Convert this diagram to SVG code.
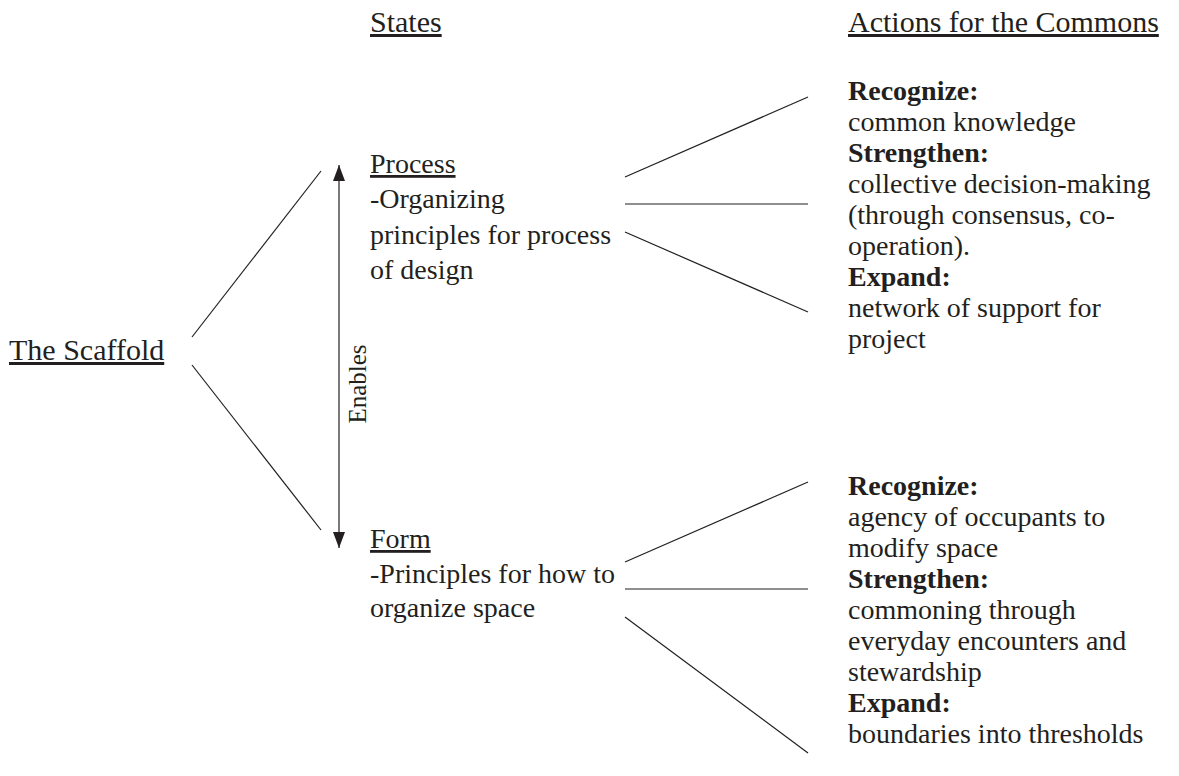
<svg xmlns="http://www.w3.org/2000/svg" width="1179" height="776" viewBox="0 0 1179 776">
<style>
text{font-family:"Liberation Serif","DejaVu Serif",serif;font-size:28px;fill:#231f20}
.u{text-decoration:underline}
.h{font-size:30px}
.b{font-weight:bold}
.c line{stroke:#231f20;stroke-width:1.2}
</style>
<defs>
<marker id="ah" viewBox="0 0 16 12" refX="16" refY="6" markerWidth="16" markerHeight="12" markerUnits="userSpaceOnUse" orient="auto-start-reverse">
<path d="M0,0 L16,6 L0,12 Z" fill="#231f20"/>
</marker>
</defs>
<rect width="1179" height="776" fill="#fff"/>
<g id="heading-states"><text x="370" y="32" class="u h">States</text></g>
<g id="heading-actions"><text x="848" y="32" class="u h">Actions for the Commons</text></g>
<g id="scaffold"><text x="9" y="360" class="u h">The Scaffold</text></g>
<g id="process">
<text x="370" y="173" class="u">Process</text>
<text x="370" y="208">-Organizing</text>
<text x="370" y="244">principles for process</text>
<text x="370" y="279">of design</text>
</g>
<g id="form">
<text x="370" y="548" class="u">Form</text>
<text x="370" y="583">-Principles for how to</text>
<text x="370" y="617">organize space</text>
</g>
<g id="actions-process">
<text x="848" y="100" class="b">Recognize:</text>
<text x="848" y="131">common knowledge</text>
<text x="848" y="162" class="b">Strengthen:</text>
<text x="848" y="193">collective decision-making</text>
<text x="848" y="224">(through consensus, co-</text>
<text x="848" y="255">operation).</text>
<text x="848" y="286" class="b">Expand:</text>
<text x="848" y="317">network of support for</text>
<text x="848" y="348">project</text>
</g>
<g id="actions-form">
<text x="848" y="495" class="b">Recognize:</text>
<text x="848" y="526">agency of occupants to</text>
<text x="848" y="557">modify space</text>
<text x="848" y="588" class="b">Strengthen:</text>
<text x="848" y="619">commoning through</text>
<text x="848" y="650">everyday encounters and</text>
<text x="848" y="681">stewardship</text>
<text x="848" y="712" class="b">Expand:</text>
<text x="848" y="743">boundaries into thresholds</text>
</g>
<g id="connectors" class="c">
<line x1="192" y1="337" x2="321" y2="171"/>
<line x1="192" y1="365" x2="321" y2="530"/>
<line x1="339" y1="165" x2="339" y2="548" marker-start="url(#ah)" marker-end="url(#ah)"/>
<line x1="625" y1="177" x2="808" y2="97"/>
<line x1="625" y1="204" x2="808" y2="204"/>
<line x1="625" y1="232" x2="808" y2="312"/>
<line x1="625" y1="562" x2="808" y2="482"/>
<line x1="625" y1="589" x2="808" y2="589"/>
<line x1="625" y1="617" x2="808" y2="753"/>
</g>
<g id="label-enables"><text transform="translate(366,384) rotate(-90)" text-anchor="middle" style="font-size:25px">Enables</text></g>
</svg>
